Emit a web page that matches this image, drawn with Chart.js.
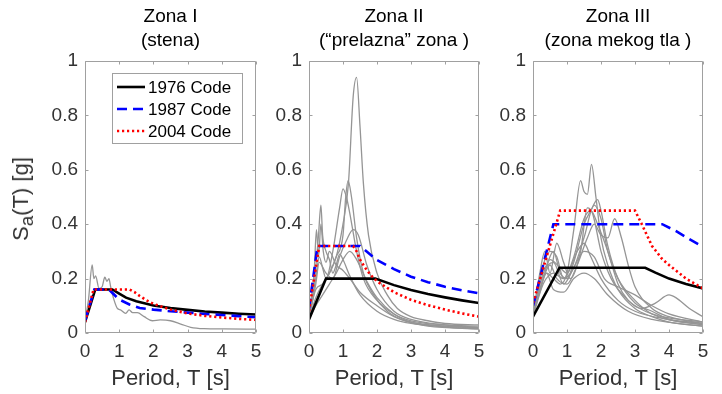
<!DOCTYPE html>
<html><head><meta charset="utf-8">
<script src="https://cdn.jsdelivr.net/npm/chart.js@4.4.0/dist/chart.umd.min.js"></script>
<style>
html,body{margin:0;padding:0;background:#fff;}
#wrap{position:relative;width:722px;height:394px;overflow:hidden;font-family:"Liberation Sans",Arial,sans-serif;}
canvas{position:absolute;left:0;top:0;}
#ylab{position:absolute;left:21px;top:199px;height:26px;line-height:26px;white-space:nowrap;font-size:22px;color:#333;
  transform:translate(-50%,-50%) rotate(-90deg);}
#ylab sub{font-size:0.85em;vertical-align:-0.25em;line-height:0;}
</style></head>
<body><div id="wrap">
<canvas id="c1" width="722" height="394"></canvas>
<canvas id="c2" width="722" height="394"></canvas>
<canvas id="c3" width="722" height="394"></canvas>
<div id="ylab">S<sub>a</sub>(T) [g]</div>
</div>
<script>
// ---------- DATA ----------
const xTicks = [0, 1, 2, 3, 4, 5];
const xTickLabels = ['0', '1', '2', '3', '4', '5'];
const yTicks = [0, 0.2, 0.4, 0.6, 0.8, 1];
const yTickLabels = ['0', '0.2', '0.4', '0.6', '0.8', '1'];
const legendLabels = ['1976 Code', '1987 Code', '2004 Code'];
const zoneTitles = [['Zona I', '(stena)'], ['Zona II', '(“prelazna” zona )'], ['Zona III', '(zona mekog tla )']];
const xAxisTitle = 'Period, T [s]';

// Zone I  [T (s), Sa (g)]
const z1Code1976 = [[0,0.04],[0.3,0.16],[0.8,0.16],[1.0,0.145],[1.2,0.13],[1.5,0.117],[2,0.101],[2.5,0.092],[3,0.085],[3.5,0.079],[4,0.075],[4.5,0.071],[5,0.068]];
const z1Code1987 = [[0,0.045],[0.27,0.16],[0.7,0.16],[1.0,0.123],[1.3,0.105],[1.6,0.092],[2,0.086],[2.5,0.08],[3,0.075],[3.5,0.07],[4,0.066],[4.5,0.062],[5,0.058]];
const z1Code2004 = [[0,0.04],[0.25,0.16],[1.3,0.16],[1.45,0.15],[1.6,0.136],[1.8,0.12],[2,0.107],[2.5,0.086],[3,0.072],[3.5,0.063],[4,0.057],[4.5,0.052],[5,0.048]];
const z1Rec1 = [[0,0.045],[0.1,0.12],[0.21,0.25],[0.26,0.2],[0.31,0.21],[0.41,0.164],[0.5,0.17],[0.58,0.205],[0.64,0.19],[0.7,0.2],[0.75,0.17],[0.85,0.121],[0.95,0.09],[1.04,0.085],[1.19,0.072],[1.29,0.085],[1.39,0.075],[1.53,0.075],[1.73,0.06],[1.97,0.045],[2.2,0.048],[2.5,0.045],[2.8,0.033],[3.09,0.021],[3.48,0.016],[4.07,0.015],[5,0.014]];

// Zone II
const z2Code1976 = [[0,0.05],[0.5,0.2],[1.95,0.2],[2.5,0.176],[3,0.158],[3.5,0.143],[4,0.131],[4.5,0.12],[5,0.11]];
const z2Code1987 = [[0,0.09],[0.25,0.32],[1.5,0.32],[2,0.268],[2.5,0.235],[3,0.207],[3.5,0.187],[4,0.17],[4.5,0.157],[5,0.146]];
const z2Code2004 = [[0,0.08],[0.3,0.32],[1.3,0.32],[1.4,0.3],[1.5,0.27],[1.65,0.24],[1.8,0.215],[2,0.19],[2.5,0.15],[3,0.122],[3.5,0.102],[4,0.086],[4.5,0.072],[5,0.06]];
const z2Rec1 = [[0,0.06],[0.1,0.12],[0.2,0.24],[0.28,0.36],[0.35,0.47],[0.4,0.36],[0.5,0.3],[0.6,0.27],[0.7,0.22],[0.8,0.25],[0.9,0.29],[1.0,0.27],[1.2,0.21],[1.5,0.14],[2,0.08],[2.5,0.05],[3,0.035],[4,0.025],[5,0.02]];
const z2Rec2 = [[0,0.05],[0.2,0.13],[0.4,0.18],[0.6,0.22],[0.8,0.28],[1.0,0.4],[1.16,0.55],[1.3,0.87],[1.4,0.94],[1.5,0.76],[1.6,0.55],[1.75,0.36],[2,0.22],[2.3,0.14],[2.6,0.09],[3,0.06],[3.5,0.045],[4,0.035],[5,0.03]];
const z2Rec3 = [[0,0.07],[0.2,0.2],[0.3,0.28],[0.4,0.24],[0.5,0.2],[0.7,0.3],[0.9,0.46],[1.0,0.53],[1.1,0.5],[1.2,0.44],[1.4,0.3],[1.6,0.2],[2,0.12],[2.5,0.07],[3,0.045],[4,0.03],[5,0.025]];
const z2Rec4 = [[0,0.06],[0.2,0.18],[0.3,0.26],[0.5,0.22],[0.7,0.2],[0.9,0.28],[1.1,0.34],[1.3,0.38],[1.45,0.36],[1.7,0.25],[2,0.16],[2.5,0.08],[3,0.05],[4,0.03],[5,0.02]];
const z2Rec5 = [[0,0.07],[0.15,0.22],[0.22,0.38],[0.28,0.28],[0.35,0.4],[0.42,0.3],[0.5,0.26],[0.6,0.3],[0.8,0.25],[1.0,0.23],[1.2,0.2],[1.5,0.15],[2,0.1],[2.5,0.06],[3,0.04],[4,0.025],[5,0.018]];
const z2Rec6 = [[0,0.06],[0.2,0.16],[0.4,0.18],[0.6,0.22],[0.8,0.28],[1.0,0.36],[1.08,0.5],[1.15,0.56],[1.25,0.5],[1.4,0.35],[1.6,0.22],[1.9,0.14],[2.3,0.08],[2.8,0.045],[3.5,0.025],[5,0.015]];
const z2Rec7 = [[0,0.05],[0.2,0.1],[0.4,0.14],[0.6,0.18],[0.8,0.22],[1.0,0.27],[1.2,0.3],[1.4,0.27],[1.7,0.19],[2,0.13],[2.5,0.07],[3,0.04],[4,0.022],[5,0.015]];

// Zone III
const z3Code1976 = [[0,0.06],[0.78,0.24],[3.3,0.24],[3.6,0.222],[4,0.2],[4.5,0.18],[5,0.164]];
const z3Code1987 = [[0,0.1],[0.6,0.4],[3.8,0.4],[4.2,0.375],[4.6,0.345],[5,0.317]];
const z3Code2004 = [[0,0.11],[0.8,0.45],[3.0,0.45],[3.2,0.4],[3.5,0.32],[3.8,0.272],[4,0.25],[4.5,0.2],[5,0.164]];
const z3Rec1 = [[0,0.07],[0.2,0.15],[0.4,0.22],[0.6,0.2],[0.8,0.18],[1.0,0.22],[1.2,0.38],[1.4,0.56],[1.5,0.52],[1.6,0.51],[1.72,0.62],[1.85,0.5],[2.0,0.35],[2.2,0.25],[2.5,0.16],[3,0.09],[3.5,0.06],[4,0.04],[5,0.025]];
const z3Rec2 = [[0,0.07],[0.2,0.2],[0.4,0.25],[0.6,0.3],[0.8,0.22],[1.0,0.2],[1.2,0.26],[1.5,0.4],[1.7,0.45],[1.9,0.49],[2.0,0.45],[2.2,0.32],[2.5,0.2],[3,0.11],[3.5,0.08],[4,0.05],[5,0.03]];
const z3Rec3 = [[0,0.07],[0.3,0.2],[0.5,0.25],[0.7,0.2],[1.0,0.18],[1.3,0.25],[1.6,0.35],[1.8,0.4],[2.0,0.36],[2.2,0.35],[2.4,0.42],[2.6,0.35],[2.8,0.25],[3,0.17],[3.5,0.09],[4,0.06],[5,0.035]];
const z3Rec4 = [[0,0.07],[0.3,0.25],[0.5,0.3],[0.7,0.28],[0.9,0.2],[1.2,0.28],[1.5,0.42],[1.7,0.45],[1.9,0.4],[2.2,0.3],[2.5,0.18],[2.8,0.12],[3.2,0.09],[3.6,0.11],[4,0.14],[4.2,0.13],[4.6,0.09],[5,0.06]];
const z3Rec5 = [[0,0.06],[0.2,0.22],[0.35,0.3],[0.5,0.22],[0.7,0.33],[0.9,0.26],[1.1,0.2],[1.4,0.3],[1.6,0.46],[1.75,0.44],[2.0,0.3],[2.3,0.2],[2.8,0.12],[3.5,0.07],[5,0.04]];
const z3Rec6 = [[0,0.06],[0.3,0.18],[0.6,0.22],[0.9,0.2],[1.2,0.24],[1.5,0.35],[1.8,0.47],[2.0,0.42],[2.2,0.3],[2.5,0.2],[3,0.12],[3.5,0.07],[5,0.03]];
const z3Rec7 = [[0,0.07],[0.3,0.2],[0.5,0.27],[0.8,0.24],[1.0,0.22],[1.3,0.3],[1.5,0.33],[1.7,0.28],[2.0,0.2],[2.5,0.12],[3.0,0.08],[4,0.05],[5,0.035]];
const z3Rec8 = [[0,0.07],[0.3,0.22],[0.6,0.26],[0.9,0.18],[1.2,0.24],[1.5,0.3],[1.8,0.28],[2.1,0.2],[2.5,0.17],[3,0.14],[3.5,0.1],[4,0.07],[5,0.04]];
const z3Rec9 = [[0,0.06],[0.2,0.18],[0.4,0.22],[0.6,0.16],[0.9,0.15],[1.2,0.2],[1.5,0.22],[1.8,0.2],[2.2,0.14],[2.8,0.08],[3.5,0.05],[5,0.025]];

// ---------- RENDERING ----------
const FONT = '"Liberation Sans", Arial, Helvetica, sans-serif';
const TXT = '#333333';
const AXC = '#a0a0a0';
const codeStyles = [
  {color: '#000000', width: 2.6, dash: []},
  {color: '#0000ff', width: 2.6, dash: [10, 6]},
  {color: '#ff0000', width: 2.6, dash: [2.2, 2.8]}
];
const PLOT_TOP = 61, PLOT_BOTTOM = 333, W = 722, H = 394;
const Y_AXIS_W = 40, X_AXIS_H = 60;

const pts = arr => arr.map(([x, y]) => ({x, y}));

const framePlugin = {
  id: 'frame',
  afterDatasetsDraw(chart) {
    const {ctx, chartArea: a, scales: {x, y}} = chart;
    ctx.save();
    ctx.strokeStyle = AXC;
    ctx.lineWidth = 1;
    const L = Math.round(a.left) + 0.5, R = Math.round(a.right) - 0.5;
    const T = Math.round(a.top) + 0.5, B = Math.round(a.bottom) - 0.5;
    ctx.beginPath();
    ctx.rect(L, T, R - L, B - T);
    const tl = 3;
    xTicks.forEach(v => {
      const px = Math.round(x.getPixelForValue(v)) + 0.5;
      ctx.moveTo(px, B); ctx.lineTo(px, B - tl);
      ctx.moveTo(px, T); ctx.lineTo(px, T + tl);
    });
    yTicks.forEach(v => {
      const py = Math.round(y.getPixelForValue(v)) + 0.5;
      ctx.moveTo(L, py); ctx.lineTo(L + tl, py);
      ctx.moveTo(R, py); ctx.lineTo(R - tl, py);
    });
    ctx.stroke();
    ctx.restore();
  }
};

const legendPlugin = {
  id: 'boxLegend',
  afterDraw(chart, args, opts) {
    if (!opts.show) return;
    const {ctx, chartArea: a} = chart;
    const bx = a.left + 27, by = a.top + 12, bw = 130, bh = 70;
    ctx.save();
    ctx.fillStyle = '#ffffff';
    ctx.fillRect(bx, by, bw, bh);
    ctx.strokeStyle = AXC;
    ctx.lineWidth = 1;
    ctx.strokeRect(Math.round(bx) + 0.5, Math.round(by) + 0.5, bw, bh);
    ctx.font = '17px ' + FONT;
    ctx.textBaseline = 'middle';
    ctx.textAlign = 'left';
    legendLabels.forEach((lab, i) => {
      const yy = by + 14 + i * 22;
      const st = codeStyles[i];
      ctx.beginPath();
      ctx.strokeStyle = st.color;
      ctx.lineWidth = st.width;
      ctx.setLineDash(st.dash);
      ctx.moveTo(bx + 5, yy);
      ctx.lineTo(bx + 33, yy);
      ctx.stroke();
      ctx.setLineDash([]);
      ctx.fillStyle = '#000';
      ctx.fillText(lab, bx + 36, yy + 1);
    });
    ctx.restore();
  }
};

function makePanel(id, title, plotLeft, plotRight, codes, records, showLegend) {
  const datasets = [];
  // 2004 on top, then 1987, then 1976 (dataset 0 drawn last)
  [2, 1, 0].forEach(i => {
    datasets.push({
      label: legendLabels[i], data: pts(codes[i]),
      borderColor: codeStyles[i].color, borderWidth: codeStyles[i].width,
      borderDash: codeStyles[i].dash, pointRadius: 0, tension: 0, fill: false
    });
  });
  records.forEach((r, k) => {
    datasets.push({
      label: 'Record ' + (k + 1), data: pts(r),
      borderColor: '#959595', borderWidth: 1.3, pointRadius: 0,
      cubicInterpolationMode: 'monotone', fill: false
    });
  });
  return new Chart(document.getElementById(id), {
    type: 'line',
    data: {datasets},
    options: {
      responsive: false, animation: false, events: [],
      devicePixelRatio: 1,
      layout: {padding: {left: plotLeft - Y_AXIS_W, right: W - plotRight, top: 0, bottom: H - PLOT_BOTTOM - X_AXIS_H}},
      scales: {
        x: {
          type: 'linear', min: 0, max: 5,
          afterBuildTicks: s => { s.ticks = xTicks.map(v => ({value: v})); },
          afterFit: s => { s.height = X_AXIS_H; },
          ticks: {callback: (v, i) => xTickLabels[i], color: TXT, font: {size: 19, family: FONT}, padding: 7, maxRotation: 0, autoSkip: false},
          grid: {display: false, drawTicks: false},
          border: {display: false},
          title: {display: true, text: xAxisTitle, color: TXT, font: {size: 22, family: FONT}, padding: {top: 0, bottom: 1}}
        },
        y: {
          type: 'linear', min: 0, max: 1,
          afterBuildTicks: s => { s.ticks = yTicks.map(v => ({value: v})); },
          afterFit: s => { s.width = Y_AXIS_W; },
          ticks: {callback: (v, i) => yTickLabels[i], color: TXT, font: {size: 19, family: FONT}, padding: 7, autoSkip: false},
          grid: {display: false, drawTicks: false},
          border: {display: false}
        }
      },
      plugins: {
        legend: {display: false},
        tooltip: {enabled: false},
        title: {display: true, text: title, fullSize: false, color: '#000', font: {size: 19, family: FONT, lineHeight: 1.263, weight: 'normal'}, padding: {top: 4.4, bottom: 8.6}},
        boxLegend: {show: showLegend}
      }
    },
    plugins: [framePlugin, legendPlugin]
  });
}

makePanel('c1', zoneTitles[0], 85, 256, [z1Code1976, z1Code1987, z1Code2004], [z1Rec1], true);
makePanel('c2', zoneTitles[1], 309, 479, [z2Code1976, z2Code1987, z2Code2004], [z2Rec1, z2Rec2, z2Rec3, z2Rec4, z2Rec5, z2Rec6, z2Rec7], false);
makePanel('c3', zoneTitles[2], 533, 703, [z3Code1976, z3Code1987, z3Code2004], [z3Rec1, z3Rec2, z3Rec3, z3Rec4, z3Rec5, z3Rec6, z3Rec7, z3Rec8, z3Rec9], false);
</script>
</body></html>
